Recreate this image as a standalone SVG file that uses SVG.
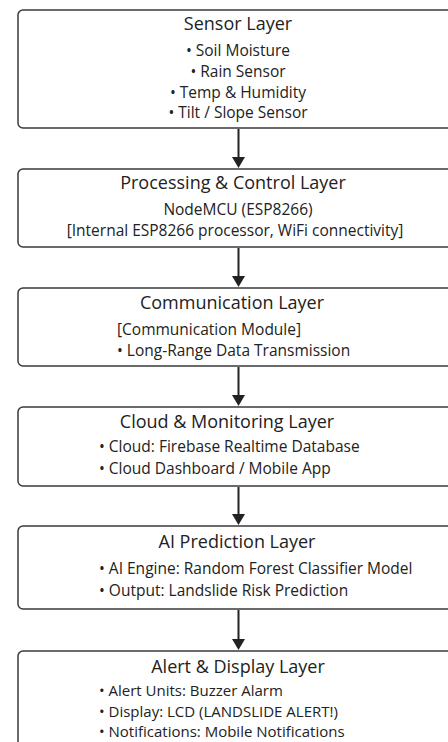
<svg xmlns="http://www.w3.org/2000/svg" width="448" height="742" viewBox="0 0 448 742">
<style>
.box{fill:#fff;stroke:#3a3a3a;stroke-width:1.5}
.t{font-family:"Open Sans","Noto Sans","DejaVu Sans",sans-serif;font-size:18px;fill:#222;text-anchor:middle}
.b{font-family:"Open Sans","Noto Sans","DejaVu Sans",sans-serif;font-size:15.5px;fill:#222}
.s{font-size:15px}
.c{text-anchor:middle}
.conn{stroke:#222;stroke-width:2;fill:none}
.head{fill:#222}
</style>
<rect width="448" height="742" fill="#fff"/>
<g id="connectors">
<line class="conn" x1="238.5" y1="129" x2="238.5" y2="158"/>
<path class="head" d="M232,157 L245,157 L238.5,168 Z"/>
<line class="conn" x1="238.5" y1="248" x2="238.5" y2="277"/>
<path class="head" d="M232,276 L245,276 L238.5,287 Z"/>
<line class="conn" x1="238.5" y1="367" x2="238.5" y2="396"/>
<path class="head" d="M232,395 L245,395 L238.5,406 Z"/>
<line class="conn" x1="238.5" y1="487" x2="238.5" y2="515"/>
<path class="head" d="M232,514 L245,514 L238.5,525 Z"/>
<line class="conn" x1="238.5" y1="610" x2="238.5" y2="640"/>
<path class="head" d="M232,639 L245,639 L238.5,650 Z"/>
</g>
<g id="sensor">
<rect class="box" x="18" y="10" width="445" height="118" rx="5"/>
<text class="t" x="238" y="30">Sensor Layer</text>
<text class="b c" x="238" y="56">• Soil Moisture</text>
<text class="b c" x="238" y="77">• Rain Sensor</text>
<text class="b c" x="238" y="98">• Temp &amp; Humidity</text>
<text class="b c" x="238" y="118">• Tilt / Slope Sensor</text>
</g>
<g id="processing">
<rect class="box" x="18" y="169" width="445" height="78" rx="5"/>
<text class="t" x="233" y="189">Processing &amp; Control Layer</text>
<text class="b c" x="238" y="215">NodeMCU (ESP8266)</text>
<text class="b c" x="235" y="236">[Internal ESP8266 processor, WiFi connectivity]</text>
</g>
<g id="communication">
<rect class="box" x="18" y="288" width="445" height="78" rx="5"/>
<text class="t" x="232" y="309">Communication Layer</text>
<text class="b" x="117" y="335">[Communication Module]</text>
<text class="b" x="117" y="356">• Long-Range Data Transmission</text>
</g>
<g id="cloud">
<rect class="box" x="18" y="407" width="445" height="79" rx="5"/>
<text class="t" x="227" y="428">Cloud &amp; Monitoring Layer</text>
<text class="b" x="99" y="452">• Cloud: Firebase Realtime Database</text>
<text class="b" x="99" y="474">• Cloud Dashboard / Mobile App</text>
</g>
<g id="ai">
<rect class="box" x="18" y="526" width="445" height="83" rx="5"/>
<text class="t" x="237" y="548">AI Prediction Layer</text>
<text class="b" x="99" y="574">• AI Engine: Random Forest Classifier Model</text>
<text class="b" x="99" y="596">• Output: Landslide Risk Prediction</text>
</g>
<g id="alert">
<rect class="box" x="18" y="651" width="445" height="110" rx="5"/>
<text class="t" x="238" y="673">Alert &amp; Display Layer</text>
<text class="b s" x="99" y="696">• Alert Units: Buzzer Alarm</text>
<text class="b s" x="99" y="716.5">• Display: LCD (LANDSLIDE ALERT!)</text>
<text class="b s" x="99" y="737">• Notifications: Mobile Notifications</text>
</g>
</svg>
